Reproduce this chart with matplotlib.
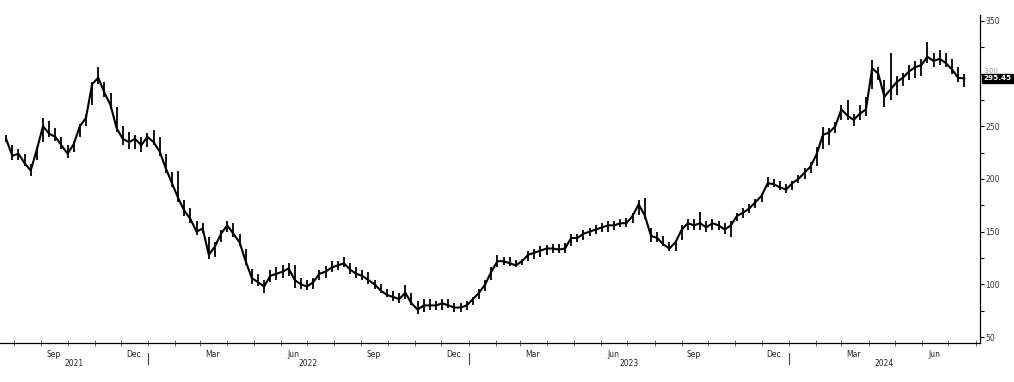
import matplotlib
matplotlib.use("Agg")
import matplotlib.pyplot as plt
import matplotlib.dates as mdates
import matplotlib.transforms as mtrans
import pandas as pd
import numpy as np

# weekly bars (week ending Friday)
week_start = "2021-07-23"
lows = [235, 218, 218, 212, 203, 218, 235, 240, 236, 228, 220, 226, 240, 250, 270, 290, 278, 266, 245, 232,
        228, 228, 226, 230, 232, 222, 206, 192, 178, 165, 158, 147, 149, 124, 126, 140, 150, 145, 136, 118,
        100, 98, 92, 102, 104, 106, 108, 97, 96, 95, 96, 104, 106, 112, 114, 116, 110, 106, 104, 100,
        96, 92, 88, 84, 82, 86, 80, 72, 74, 76, 76, 76, 78, 74, 74, 76, 80, 86, 94, 104,
        116, 118, 117, 116, 118, 122, 124, 126, 128, 130, 130, 130, 136, 140, 142, 146, 148, 150, 150, 152,
        154, 154, 158, 166, 162, 140, 140, 136, 132, 132, 142, 152, 152, 152, 150, 152, 152, 148, 145, 160,
        163, 168, 172, 178, 192, 192, 190, 187, 190, 196, 200, 206, 212, 228, 232, 244, 256, 256, 250, 256,
        260, 285, 294, 268, 275, 280, 288, 294, 296, 298, 310, 306, 308, 306, 300, 292, 287]
highs = [242, 232, 228, 224, 214, 230, 258, 255, 248, 240, 232, 236, 252, 262, 292, 306, 292, 282, 268, 250,
         245, 242, 240, 244, 246, 240, 224, 207, 208, 180, 172, 160, 158, 145, 140, 152, 160, 158, 148, 134,
         115, 110, 104, 114, 116, 118, 120, 118, 106, 104, 106, 114, 117, 122, 122, 126, 120, 116, 114, 112,
         104, 100, 96, 94, 92, 99, 92, 84, 86, 86, 84, 86, 86, 82, 82, 84, 88, 96, 104, 116,
         128, 126, 126, 123, 124, 132, 134, 136, 137, 138, 138, 139, 148, 148, 152, 153, 156, 158, 160, 160,
         162, 163, 168, 180, 182, 153, 150, 146, 140, 142, 156, 162, 162, 169, 160, 162, 160, 158, 160, 168,
         172, 176, 181, 187, 202, 200, 198, 195, 198, 204, 210, 216, 230, 249, 248, 254, 270, 275, 262, 270,
         278, 313, 306, 294, 320, 298, 301, 308, 312, 314, 330, 320, 322, 320, 314, 306, 300]
closes = [238, 222, 224, 215, 208, 228, 250, 243, 240, 232, 224, 233, 250, 258, 290, 296, 282, 270, 248, 238,
          235, 238, 232, 240, 235, 226, 210, 196, 182, 170, 162, 150, 153, 128, 136, 148, 156, 148, 140, 122,
          106, 102, 98, 108, 110, 112, 115, 104, 100, 98, 102, 110, 112, 116, 118, 120, 114, 110, 108, 104,
          100, 94, 90, 88, 86, 92, 82, 76, 80, 80, 80, 82, 80, 78, 78, 80, 86, 92, 100, 112,
          122, 122, 120, 118, 122, 128, 130, 132, 134, 134, 133, 134, 144, 144, 148, 150, 152, 154, 156, 156,
          158, 158, 165, 176, 165, 146, 144, 138, 134, 140, 152, 158, 156, 158, 154, 158, 156, 152, 156, 165,
          168, 172, 178, 184, 196, 195, 192, 190, 196, 200, 206, 212, 224, 242, 244, 250, 266, 260, 256, 262,
          266, 305, 300, 278, 285, 292, 296, 302, 306, 308, 316, 312, 314, 310, 304, 296, 295.45]
last_value = 295.45
y_ticks = [50, 100, 150, 200, 250, 300, 350]
quarter_labels = {9: "Sep", 12: "Dec", 3: "Mar", 6: "Jun"}
years = [2021, 2022, 2023, 2024]

dates = pd.date_range(week_start, periods=len(closes), freq="W-FRI")
xd = mdates.date2num(dates.to_pydatetime())

fig = plt.figure(figsize=(10.14, 3.82), dpi=100)
ax = fig.add_axes([0.0, 0.102, 0.9665, 0.859])

ax.vlines(xd, lows, highs, color="black", lw=1.3)
ax.plot(xd, closes, color="black", lw=1.5)

x0 = mdates.date2num(pd.Timestamp("2021-07-16"))
x1 = mdates.date2num(pd.Timestamp("2024-08-06"))
ax.set_xlim(x0, x1)
ax.set_ylim(44.3, 355.7)

for s in ["top", "left"]:
    ax.spines[s].set_visible(False)
for s in ["right", "bottom"]:
    ax.spines[s].set_linewidth(0.9)
    ax.spines[s].set_color("black")

ax.yaxis.tick_right()
ax.set_yticks(y_ticks)
ax.set_yticklabels([str(v) if v != 300 else "" for v in y_ticks])
ax.set_yticks([v + 25 for v in y_ticks[:-1]], minor=True)
ax.tick_params(axis="y", which="major", direction="out", length=3, width=0.8,
               labelsize=5.5, pad=1, labelcolor="#333333")
ax.tick_params(axis="y", which="minor", direction="out", length=3, width=0.8)

# month ticks
months = pd.date_range("2021-08-01", "2024-08-01", freq="MS")
ax.set_xticks(mdates.date2num(months.to_pydatetime()))
ax.set_xticklabels([])
ax.tick_params(axis="x", which="major", direction="inout", length=4, width=0.6, color="#555555")

tr = mtrans.blended_transform_factory(ax.transData, ax.transAxes)
for m in pd.date_range("2021-07-01", "2024-07-01", freq="MS"):
    if m.month in quarter_labels:
        xm = mdates.date2num(m + pd.Timedelta(days=14))
        if x0 < xm < x1:
            ax.text(xm, -0.02, quarter_labels[m.month], transform=tr, ha="center", va="top",
                    fontsize=5.5, color="#222222")
for yr in years:
    a = max(mdates.date2num(pd.Timestamp(f"{yr}-01-01")), x0)
    b = min(mdates.date2num(pd.Timestamp(f"{yr + 1}-01-01")), x1)
    ax.text((a + b) / 2, -0.05, str(yr), transform=tr, ha="center", va="top",
            fontsize=5.5, color="#222222")
    if yr > years[0]:
        xs = mdates.date2num(pd.Timestamp(f"{yr}-01-01"))
        ax.plot([xs, xs], [-0.03, -0.065], transform=tr, color="#444444", lw=0.8, clip_on=False)

# "300" label sits behind the last-value tag in the reference
ax.text(1.0, 300, "  300", transform=mtrans.blended_transform_factory(ax.transAxes, ax.transData),
        ha="left", va="bottom", fontsize=5.0, color="#999999", zorder=1, clip_on=False)

# last value tag
ax.annotate(f"{last_value:.2f}", xy=(1.0, last_value), xycoords=("axes fraction", "data"),
            xytext=(2.5, 0), textcoords="offset points", ha="left", va="center",
            fontsize=5.2, color="white", fontweight="bold", zorder=5,
            bbox=dict(boxstyle="square,pad=0.2", fc="black", ec="black"))

fig.savefig("out.png", dpi=100)
